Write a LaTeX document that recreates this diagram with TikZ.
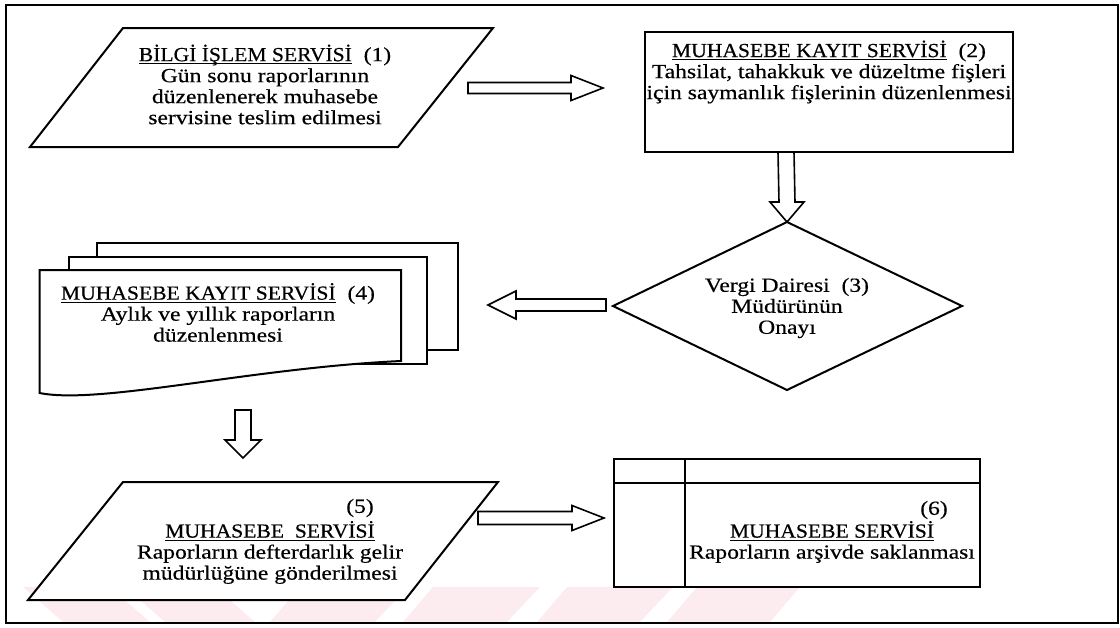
\documentclass[tikz,border=0pt]{standalone}
\usepackage{fontspec}
\setmainfont{Liberation Serif}[FakeStretch=1.18,FakeBold=0.4]
\newfontfamily\capsfont{Liberation Serif}[FakeStretch=1.08,FakeBold=0.4]
\usetikzlibrary{calc}

% underlined service title
\newsavebox\svcbox
\newcommand\svc[1]{{\capsfont\sbox\svcbox{#1}\rlap{\rule[-1.6pt]{\wd\svcbox}{0.5pt}}\usebox\svcbox}}

\begin{document}
\begin{tikzpicture}[x=0.5pt,y=-0.5pt,
  shapeline/.style={line width=1pt, line join=miter, fill=white},
  frameline/.style={line width=1.1pt},
  txt/.style={align=center, font=\fontsize{10}{10.5}\selectfont, inner sep=0pt},
  barrow/.style={line width=0.8pt, fill=white, line join=miter},
  stripe/.style={fill={rgb,255:red,253;green,236;blue,239}, draw=none}]

\useasboundingbox (0,0) rectangle (1120,627);

% faint stripes along the lower edge
\fill[stripe] (23,587) -- (110,587) -- (150,622) -- (63,622) -- cycle;
\fill[stripe] (125,587) -- (215,587) -- (255,622) -- (165,622) -- cycle;
\fill[stripe] (300,587) -- (408,587) -- (375,622) -- (270,622) -- cycle;
\fill[stripe] (433,587) -- (540,587) -- (507,622) -- (403,622) -- cycle;
\fill[stripe] (567,587) -- (673,587) -- (640,622) -- (537,622) -- cycle;
\fill[stripe] (697,587) -- (800,587) -- (770,622) -- (667,622) -- cycle;

% outer frame
\draw[frameline] (6,5) rectangle (1118,623);

% (1) data processing: parallelogram
\draw[shapeline] (123,28) -- (493,28) -- (398,147) -- (30,147) -- cycle;
\node[txt] (n1) at (265,84.5) {\svc{BİLGİ İŞLEM SERVİSİ}\ \ (1)\\Gün sonu raporlarının\\düzenlenerek muhasebe\\servisine teslim edilmesi};

% (2) accounting record: box
\draw[shapeline] (645,32) rectangle (1013,152);
\coordinate (b2s) at (786,152);
\node[txt] (n2) at (829,72) {\svc{MUHASEBE KAYIT SERVİSİ}\ \ (2)\\Tahsilat, tahakkuk ve düzeltme fişleri\\için saymanlık fişlerinin düzenlenmesi};

% (3) approval: decision diamond
\draw[shapeline] (787,222) -- (962,306) -- (787,390) -- (613,306) -- cycle;
\coordinate (d3n) at (787,222);
\coordinate (d3w) at (606,305);
\node[txt] (n3) at (787,308) {Vergi Dairesi\ \ (3)\\Müdürünün\\Onayı};

% (4) monthly and yearly reports: stacked documents
\draw[shapeline] (97,243) rectangle (458,350);
\draw[shapeline] (69,257) rectangle (427,364);
\draw[shapeline] (39.5,270) -- (401,270) -- (401,361)
  .. controls (250,368) and (100,405) .. (39.5,393) -- cycle;
\coordinate (d4e) at (488,305);
\coordinate (d4s) at (243,410);
\node[txt] (n4) at (218,312.5) {\svc{MUHASEBE KAYIT SERVİSİ}\ \ (4)\\Aylık ve yıllık raporların\\düzenlenmesi};

% (5) accounting service: parallelogram
\draw[shapeline] (123,482) -- (498,482) -- (405,600) -- (28,600) -- cycle;
\coordinate (p5n) at (243,458);
\coordinate (p5e) at (478,518);
\node[txt] (n5no) at (360,508) {(5)};
\node[txt] (n5) at (270,552.5) {\svc{MUHASEBE\ \ SERVİSİ}\\Raporların defterdarlık gelir\\müdürlüğüne gönderilmesi};

% (6) archive: card with header row and side column
\draw[shapeline] (613.5,459) rectangle (980,587);
\draw[line width=1pt] (613.5,483) -- (980,483);
\draw[line width=1pt] (685,459) -- (685,587);
\coordinate (b6w) at (604,518);
\node[txt] (n6no) at (934,510) {(6)};
\node[txt] (n6) at (832,542) {\svc{MUHASEBE SERVİSİ}\\Raporların arşivde saklanması};

% block arrows between the steps
\coordinate (a1s) at (468,88);
\coordinate (a1t) at (603,88);
\draw[barrow] ($(a1s)+(0,-5.5)$) -- ($(a1t)+(-32,-5.5)$) -- ($(a1t)+(-32,-12.5)$) -- (a1t)
  -- ($(a1t)+(-32,12.5)$) -- ($(a1t)+(-32,5.5)$) -- ($(a1s)+(0,5.5)$) -- cycle;

\draw[barrow] ($(b2s)+(-8,0)$) -- ($(d3n)+(-8,-20)$) -- ($(d3n)+(-17,-20)$) -- (d3n)
  -- ($(d3n)+(17,-20)$) -- ($(d3n)+(8,-20)$) -- ($(b2s)+(8,0)$) -- cycle;

\draw[barrow] ($(d3w)+(0,-6)$) -- ($(d4e)+(28,-6)$) -- ($(d4e)+(28,-14)$) -- (d4e)
  -- ($(d4e)+(28,14)$) -- ($(d4e)+(28,6)$) -- ($(d3w)+(0,6)$) -- cycle;

\draw[barrow] ($(d4s)+(-8,0)$) -- ($(p5n)+(-8,-18)$) -- ($(p5n)+(-18,-18)$) -- (p5n)
  -- ($(p5n)+(18,-18)$) -- ($(p5n)+(8,-18)$) -- ($(d4s)+(8,0)$) -- cycle;

\draw[barrow] ($(p5e)+(0,-6.5)$) -- ($(b6w)+(-32,-6.5)$) -- ($(b6w)+(-32,-12.5)$) -- (b6w)
  -- ($(b6w)+(-32,12.5)$) -- ($(b6w)+(-32,6.5)$) -- ($(p5e)+(0,6.5)$) -- cycle;

\end{tikzpicture}
\end{document}
